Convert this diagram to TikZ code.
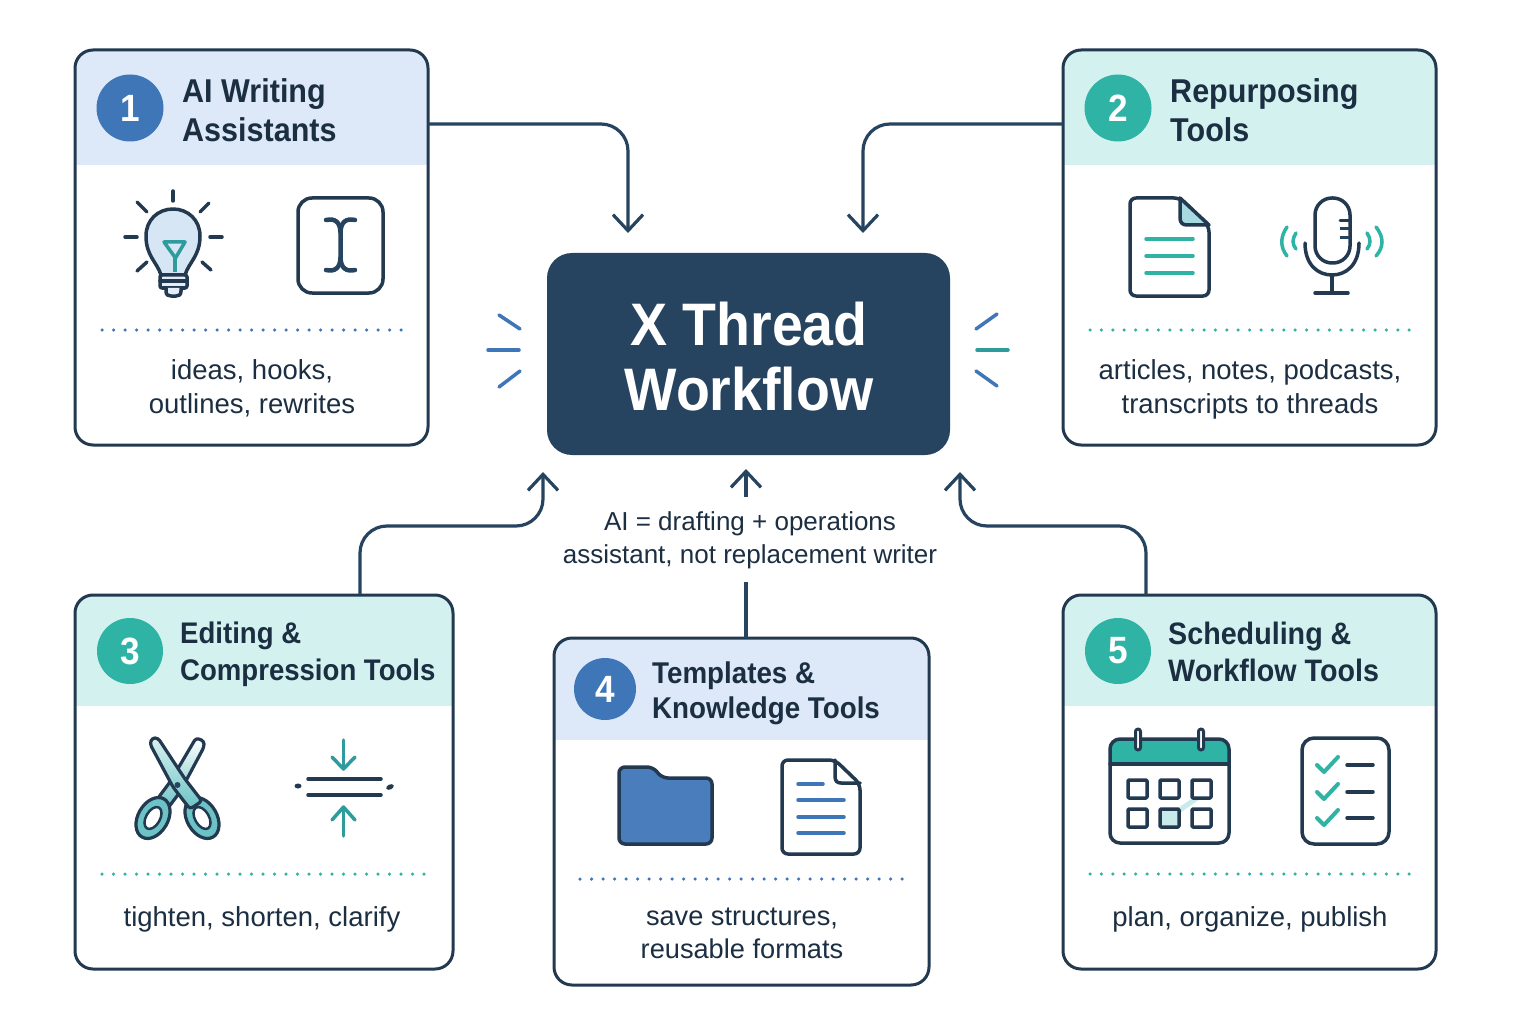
\documentclass[tikz,border=0pt]{standalone}
\usepackage{fontspec}
\setmainfont{Liberation Sans}[BoldFeatures={FakeStretch=0.925}]
\usetikzlibrary{arrows.meta}

\definecolor{ink}{HTML}{1B2E42}
\definecolor{navy}{HTML}{26435F}
\definecolor{outline}{HTML}{22394F}
\definecolor{bluehead}{HTML}{DDE9F9}
\definecolor{tealhead}{HTML}{D3F2EF}
\definecolor{blueish}{HTML}{3F76B8}
\definecolor{tealish}{HTML}{2FB3A5}
\definecolor{tealdark}{HTML}{2E9C9C}
\definecolor{tealsoft}{HTML}{6CC3C6}
\definecolor{paleblue}{HTML}{D6E6F4}
\definecolor{paleteal}{HTML}{C9EAEA}
\definecolor{foldteal}{HTML}{A8D8E0}

\tikzset{
  cardbox/.style 2 args={draw=outline,fill=white,line width=3pt,rounded corners=18pt,anchor=north west,inner sep=0pt,outer sep=0pt,
    path picture={\fill[#1,sharp corners] (path picture bounding box.north west) rectangle ([yshift=-#2]path picture bounding box.north east);}},
  numdot/.style={circle,inner sep=0pt,text=white,font=\fontsize{38}{38}\selectfont\bfseries},
  titletext/.style={anchor=west,align=left,inner sep=0pt,text=ink,font=\fontsize{33}{38.5}\selectfont\bfseries},
  bodytext/.style={align=center,inner sep=0pt,text=ink,font=\fontsize{27.5}{34}\selectfont},
  flow/.style={draw=navy,line width=3.2pt,rounded corners=27pt,-{Straight Barb[length=16pt,width=30pt,line width=3.2pt]}},
  dots/.style={line width=3.5pt,line cap=round,dash pattern=on 0pt off #1},
  icon/.style={draw=outline,line width=3.5pt,line cap=round,line join=round},
  ray/.style={line width=3.5pt,line cap=round}
}

\begin{document}
\begin{tikzpicture}[x=1pt,y=-1pt]
\useasboundingbox (0,0) rectangle (1536,1024);
\fill[white] (0,0) rectangle (1536,1024);

% Cards
\node[cardbox={bluehead}{115pt},minimum width=353pt,minimum height=395pt] (card1) at (75,50) {};
\node[cardbox={tealhead}{115pt},minimum width=373pt,minimum height=395pt] (card2) at (1063,50) {};
\node[cardbox={tealhead}{111pt},minimum width=378pt,minimum height=374pt] (card3) at (75,595) {};
\node[cardbox={bluehead}{102pt},minimum width=375pt,minimum height=347pt] (card4) at (554,638) {};
\node[cardbox={tealhead}{111pt},minimum width=373pt,minimum height=374pt] (card5) at (1063,595) {};

% Center box
\node[fill=navy,rounded corners=25pt,minimum width=403pt,minimum height=202pt,inner sep=0pt,outer sep=0pt,anchor=north west] (hub) at (547,253) {};
\node[text=white,inner sep=0pt,align=center,font=\fontsize{60}{65}\selectfont\bfseries] (hubtext) at (749,356.5) {X Thread\\Workflow};

% Numbers and titles
\node[numdot,fill=blueish,minimum size=67pt] (num1) at (130,108) {1};
\node[numdot,fill=tealish,minimum size=67pt] (num2) at (1118,108) {2};
\node[numdot,fill=tealish,minimum size=66pt] (num3) at (130,651) {3};
\node[numdot,fill=blueish,minimum size=62pt] (num4) at (605,689) {4};
\node[numdot,fill=tealish,minimum size=66pt] (num5) at (1118,651) {5};

\node[titletext] (title1) at (182,110) {AI Writing\\Assistants};
\node[titletext] (title2) at (1170,110) {Repurposing\\Tools};
\node[titletext,font=\fontsize{29.8}{37}\selectfont\bfseries] (title3) at (180,654) {Editing \&\\Compression Tools};
\node[titletext,font=\fontsize{30}{35}\selectfont\bfseries] (title4) at (652,693) {Templates \&\\Knowledge Tools};
\node[titletext,font=\fontsize{31}{37}\selectfont\bfseries] (title5) at (1168,651.5) {Scheduling \&\\Workflow Tools};

% Card texts
\node[bodytext] (body1) at (252,388) {ideas, hooks,\\outlines, rewrites};
\node[bodytext] (body2) at (1250,389) {articles, notes, podcasts,\\transcripts to threads};
\node[bodytext] (body3) at (262,919) {tighten, shorten, clarify};
\node[bodytext,font=\fontsize{27.2}{33}\selectfont] (body4) at (742,933) {save structures,\\reusable formats};
\node[bodytext] (body5) at (1250,919) {plan, organize, publish};
\node[bodytext,font=\fontsize{26}{33}\selectfont] (note) at (750,540) {AI = drafting + operations\\assistant, not replacement writer};

% Dotted rules
\draw[dots=11.5pt,blueish] (102,330) -- (402,330);
\draw[dots=11.4pt,tealish] (1090,330) -- (1410,330);
\draw[dots=11.5pt,tealish] (102,874) -- (426,874);
\draw[dots=11.5pt,blueish] (580,879) -- (904,879);
\draw[dots=11.4pt,tealish] (1090,874) -- (1410,874);

% Connectors
\coordinate (in1) at (628,233);
\coordinate (in2) at (863,233);
\coordinate (in3) at (543,472);
\coordinate (in5) at (960,472);
\coordinate (bend3) at (360,526);
\coordinate (bend5) at (1146,526);
\coordinate (stem4) at (746,582);
\coordinate (low4) at (746,497);
\coordinate (in4) at (746,469);

\draw[flow] ([yshift=-74pt]card1.north east) -| (in1);
\draw[flow] ([yshift=-74pt]card2.north west) -| (in2);
\draw[flow] ([xshift=285pt]card3.north west) -- (bend3) -- (bend3 -| in3) -- (in3);
\draw[flow] ([xshift=83pt]card5.north west) -- (bend5) -- (bend5 -| in5) -- (in5);
\draw[draw=navy,line width=3.2pt] ([xshift=4.5pt]card4.north) -- (stem4);
\draw[flow] (low4) -- (in4);

% Rays beside the center box
\draw[ray,blueish] (499,315) -- (520,329);
\draw[ray,blueish] (488,350) -- (519,350);
\draw[ray,blueish] (499,387) -- (520,371);
\draw[ray,blueish] (997,314) -- (976,329);
\draw[ray,tealdark] (977,350) -- (1008,350);
\draw[ray,blueish] (976,371) -- (997,386);

% Light bulb
\draw[icon,fill=paleblue] (161,275) .. controls (157,262) and (146,256) .. (146,236) .. controls (146,220) and (158,209) .. (173,209) .. controls (188,209) and (200,220) .. (200,236) .. controls (200,256) and (189,262) .. (185,275) -- cycle;
\draw[tealdark,line width=3.5pt,line join=round] (164,242) -- (185,242) -- (175.5,258) -- cycle;
\draw[tealdark,line width=4.5pt] (175,256) -- (175,272);
\draw[icon,fill=paleblue!70!white,rounded corners=2pt] (160,275) rectangle (187,288);
\draw[icon] (160,281) -- (187,281);
\draw[icon,fill=paleblue!70!white] (166,288) -- (166,291) .. controls (166,295) and (168,296) .. (171,296) -- (176,296) .. controls (179,296) and (181,295) .. (181,291) -- (181,288);
\draw[icon] (173,191) -- (173,201);
\draw[icon] (137,202) -- (147,212);
\draw[icon] (209,203) -- (200,212);
\draw[icon] (125,237) -- (137,237);
\draw[icon] (210,237) -- (222,237);
\draw[icon] (137,271) -- (147,262);
\draw[icon] (211,270) -- (202,262);

% Text cursor
\draw[icon,rounded corners=14pt] (298,198) rectangle (383,293);
\draw[navy,line width=4.5pt,line cap=round] (326,220) .. controls (335,218) and (340,222) .. (340.5,232) -- (340.5,258) .. controls (340,268) and (335,272) .. (326,270);
\draw[navy,line width=4.5pt,line cap=round] (355,220) .. controls (346,218) and (341,222) .. (340.5,232);
\draw[navy,line width=4.5pt,line cap=round] (355,270) .. controls (346,272) and (341,268) .. (340.5,258);

% Document
\draw[icon,rounded corners=6pt] (1130,198) -- (1180,198) -- (1209,226) -- (1209,296) -- (1130,296) -- cycle;
\draw[icon,fill=foldteal,line join=round] (1180,198) -- (1180,218) .. controls (1180,223) and (1183,225) .. (1187,225) -- (1209,225) -- cycle;
\foreach \y in {239,256,273}
  \draw[tealish,line width=3.5pt,line cap=round] (1146,\y) -- (1193,\y);

% Microphone
\draw[icon,rounded corners=17pt] (1315,198) rectangle (1350,263);
\draw[icon,line width=3pt] (1340,221) -- (1349,221);
\draw[navy,line width=3pt] (1340,229) -- (1349,229);
\draw[navy,line width=3pt] (1340,238) -- (1349,238);
\draw[icon] (1305,243) .. controls (1305,265) and (1318,275) .. (1332,275) .. controls (1346,275) and (1359,265) .. (1359,243);
\draw[icon] (1332,275) -- (1332,293);
\draw[icon] (1315,293) -- (1348,293);
\draw[tealish,line width=3.5pt,line cap=round] (1287,227) .. controls (1280,237) and (1280,247) .. (1287,256);
\draw[tealish,line width=3.5pt,line cap=round] (1296,233) .. controls (1292,239) and (1292,244) .. (1296,249);
\draw[tealish,line width=3.5pt,line cap=round] (1376,227) .. controls (1384,237) and (1384,247) .. (1376,256);
\draw[tealish,line width=3.5pt,line cap=round] (1367,233) .. controls (1371,239) and (1371,244) .. (1367,249);

% Scissors
\draw[icon,line width=3.2pt,top color=white,middle color=white,bottom color=tealsoft,rounded corners=3pt] (196,738) -- (204,741) -- (204,747) -- (180,792) -- (168,808) -- (158,798) -- (170,782) -- cycle;
\draw[icon,line width=3.2pt,fill=tealsoft,rotate around={-30:(153,818)}] (153,818) ellipse (15 and 22);
\draw[icon,line width=2.5pt,fill=white,rotate around={-30:(153,818)}] (153,818) ellipse (7 and 12);
\draw[icon,line width=3.2pt,fill=tealsoft,rotate around={30:(202,818)}] (202,818) ellipse (15 and 22);
\draw[icon,line width=2.5pt,fill=white,rotate around={30:(202,818)}] (202,818) ellipse (7 and 12);
\draw[icon,line width=3.2pt,top color=paleteal!70!white,bottom color=tealsoft,rounded corners=3pt] (150,744) -- (152,738) -- (158,738) -- (185,779) -- (202,801) -- (190,809) -- (173,787) -- cycle;
\fill[navy] (177.5,785) circle (3);

% Compress
\draw[tealdark,line width=3.5pt,line cap=round] (343.5,740) -- (343.5,768);
\draw[tealdark,line width=3.5pt,line cap=round,line join=round] (332,757) -- (343.5,769) -- (355,757);
\draw[tealdark,line width=3.5pt,line cap=round] (343.5,836) -- (343.5,808);
\draw[tealdark,line width=3.5pt,line cap=round,line join=round] (332,820) -- (343.5,807) -- (355,820);
\draw[icon] (308,779) -- (381,779);
\draw[icon] (308,795) -- (381,795);
\fill[outline] (298,786) ellipse (3.5 and 2.5);
\fill[outline,rotate around={25:(390,787)}] (390,787) ellipse (4 and 2.5);

% Folder
\draw[icon,fill=blueish!95!white,rounded corners=6pt] (619,844) -- (619,767) -- (653,767) -- (662,778) -- (712,778) -- (712,844) -- cycle;

% Page with lines
\draw[icon,rounded corners=6pt] (782,760) -- (835,760) -- (860,784) -- (860,854) -- (782,854) -- cycle;
\draw[icon,line join=round] (835,760) -- (835,776) .. controls (835,781) and (837,783) .. (841,783) -- (860,783);
\draw[blueish,line width=3.5pt,line cap=round] (798,784) -- (823,784);
\foreach \y in {800,817,833}
  \draw[blueish,line width=3.5pt,line cap=round] (798,\y) -- (844,\y);

% Calendar
\fill[tealish,rounded corners=9pt] (1110,739) rectangle (1229,780);
\fill[white] (1110,764) rectangle (1229,782);
\draw[icon,rounded corners=10pt] (1110,739) rectangle (1229,843);
\draw[icon] (1110,764) -- (1229,764);
\draw[icon,fill=white,line width=3pt,rounded corners=2.5pt] (1135.5,729) rectangle (1140.5,750);
\draw[icon,fill=white,line width=3pt,rounded corners=2.5pt] (1198.5,729) rectangle (1203.5,750);
\draw[paleteal,line width=5pt] (1177,812) -- (1197,798);
\foreach \x in {1128,1160,1192}
  \draw[icon,rounded corners=1pt] (\x,780) rectangle (\x+19,798);
\draw[icon,rounded corners=1pt] (1128,809) rectangle (1147,827);
\draw[icon,fill=paleteal,rounded corners=1pt] (1160,809) rectangle (1179,827);
\draw[icon,rounded corners=1pt] (1192,809) rectangle (1211,827);

% Checklist
\draw[icon,rounded corners=12pt] (1302,738) rectangle (1389,844);
\foreach \y in {765,792,818} {
  \draw[tealish,line width=4pt,line cap=round,line join=round] (1317,\y) -- (1324,\y+7) -- (1338,\y-8);
  \draw[icon] (1347,\y) -- (1373,\y);
}

\end{tikzpicture}
\end{document}
